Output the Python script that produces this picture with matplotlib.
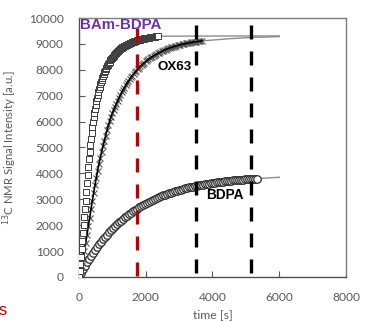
"""
13C NMR signal build-up for three polarizing agents (BAm-BDPA, OX63, BDPA).
"""

import numpy as np
import matplotlib
matplotlib.use("Agg")
import matplotlib.pyplot as plt

# build-up data (time step per series, signal in a.u.)
bam_step = 20
bam_signal = [
    0, 230, 490, 780, 1080, 1380, 1690, 2000, 2310, 2620,
    2950, 3280, 3620, 3940, 4250, 4540, 4820, 5080, 5330, 5560,
    5780, 5980, 6170, 6340, 6500, 6650, 6790, 6920, 7040, 7150,
    7250, 7350, 7440, 7530, 7610, 7690, 7760, 7830, 7900, 7960,
    8020, 8075, 8130, 8180, 8230, 8275, 8320, 8360, 8400, 8440,
    8475, 8510, 8545, 8575, 8605, 8635, 8660, 8690, 8715, 8740,
    8760, 8785, 8805, 8825, 8845, 8865, 8880, 8900, 8915, 8930,
    8945, 8960, 8975, 8990, 9000, 9015, 9025, 9040, 9050, 9060,
    9070, 9080, 9090, 9100, 9110, 9118, 9126, 9134, 9142, 9150,
    9157, 9164, 9171, 9178, 9185, 9191, 9197, 9203, 9209, 9215,
    9220, 9225, 9230, 9235, 9240, 9245, 9250, 9254, 9258, 9262,
    9266, 9270, 9274, 9278, 9282, 9286, 9290, 9294, 9298,
]

ox_step = 40
ox_signal = [
    0, 200, 440, 710, 1000, 1310, 1630, 1960, 2290, 2620,
    2940, 3250, 3550, 3840, 4110, 4370, 4610, 4840, 5050, 5260,
    5460, 5660, 5850, 6030, 6182, 6320, 6451, 6577, 6697, 6812,
    6921, 7026, 7126, 7221, 7312, 7399, 7482, 7562, 7638, 7710,
    7779, 7846, 7909, 7969, 8026, 8082, 8134, 8184, 8232, 8278,
    8321, 8363, 8403, 8441, 8478, 8512, 8545, 8577, 8607, 8636,
    8664, 8690, 8715, 8739, 8762, 8784, 8805, 8825, 8844, 8862,
    8880, 8897, 8912, 8927, 8942, 8956, 8969, 8982, 8994, 9005,
    9016, 9027, 9037, 9047, 9056, 9064, 9072, 9080, 9088, 9095,
    9102, 9109, 9115,
]

bdpa_step = 60
bdpa_signal = [
    0, 148, 291, 428, 560, 688, 810, 928, 1041, 1150,
    1255, 1356, 1453, 1546, 1636, 1723, 1806, 1886, 1963, 2038,
    2109, 2178, 2244, 2307, 2369, 2428, 2484, 2539, 2591, 2642,
    2690, 2737, 2782, 2825, 2867, 2907, 2946, 2983, 3019, 3053,
    3086, 3118, 3149, 3178, 3207, 3234, 3260, 3285, 3310, 3333,
    3356, 3377, 3398, 3418, 3438, 3456, 3474, 3491, 3508, 3524,
    3539, 3554, 3568, 3582, 3595, 3607, 3620, 3631, 3643, 3653,
    3664, 3674, 3684, 3693, 3702, 3710, 3719, 3727, 3734, 3742,
    3749, 3756, 3762, 3769, 3775, 3781, 3786, 3792, 3797, 3802,
]

# fitted curves beyond the last data point
bam_fit_t = [2360, 6000]
bam_fit_y = [9298, 9310]
ox_fit_t = [3680, 4500, 5200, 6000]
ox_fit_y = [9115, 9200, 9250, 9280]
bdpa_fit_t = [5340, 6000]
bdpa_fit_y = [3802, 3850]

# time markers
red_mark = 1740
black_marks = [3505, 5150]

x_ticks = [0, 2000, 4000, 6000, 8000]
y_ticks = list(range(0, 10001, 1000))

bam_t = np.arange(len(bam_signal)) * bam_step
ox_t = np.arange(len(ox_signal)) * ox_step
bdpa_t = np.arange(len(bdpa_signal)) * bdpa_step

fig = plt.figure(figsize=(3.66, 3.21), dpi=100)
ax = fig.add_axes([0.2158, 0.1371, 0.7296, 0.8068])

# fit continuation lines
ax.plot(bam_fit_t, bam_fit_y, color="#8c8c8c", lw=1.0, zorder=2)
ax.plot(ox_fit_t, ox_fit_y, color="#8c8c8c", lw=1.0, zorder=2)
ax.plot(bdpa_fit_t, bdpa_fit_y, color="#8c8c8c", lw=1.0, zorder=2)

# data
ax.plot(bdpa_t, bdpa_signal, linestyle="none", marker="o", ms=5.4,
        mfc="white", mec="#2e2e2e", mew=0.9, zorder=3)
ax.plot(ox_t, ox_signal, linestyle="none", marker="x", ms=5.0,
        mec="#555555", mew=0.8, zorder=3)
ax.plot(ox_t, ox_signal, color="black", lw=1.2, zorder=3)
ax.plot(bam_t, bam_signal, linestyle="none", marker="s", ms=4.2,
        mfc="white", mec="#3c3c3c", mew=0.7, zorder=4)

# dashed time markers
ax.plot([red_mark, red_mark], [9620, 0], color="#c00000", lw=2.4,
        dashes=(4.2, 3.6), zorder=5)
for xm in black_marks:
    ax.plot([xm, xm], [9730, 0], color="black", lw=2.4,
            dashes=(4.2, 3.6), zorder=5)

# series labels
ax.text(1250, 9730, "BAm-BDPA", color="#7030a0", fontsize=10.8,
        fontweight="bold", family="Liberation Sans", ha="center",
        va="center", zorder=6, clip_on=False)
ax.text(2870, 8120, "OX63", color="black", fontsize=9.6,
        fontweight="bold", family="Liberation Sans", ha="center",
        va="center", zorder=6)
ax.text(4380, 3160, "BDPA", color="black", fontsize=9.8,
        fontweight="bold", family="Liberation Sans", ha="center",
        va="center", zorder=6)

ax.set_xlim(0, 8000)
ax.set_ylim(0, 10000)
ax.set_xticks(x_ticks)
ax.set_xticklabels([str(v) for v in x_ticks])
ax.set_yticks(y_ticks)
ax.set_yticklabels([str(v) for v in y_ticks])
ax.tick_params(direction="in", length=4, width=0.8, color="#595959",
               labelsize=8.6, labelcolor="#595959", pad=11)
for lab in ax.get_xticklabels() + ax.get_yticklabels():
    lab.set_family("Lato")

for side in ["left", "bottom"]:
    ax.spines[side].set_color("#505050")
    ax.spines[side].set_linewidth(1.0)
for side in ["top", "right"]:
    ax.spines[side].set_color("#7f7f7f")
    ax.spines[side].set_linewidth(1.0)

ax.set_xlabel("time [s]", fontsize=8.8, color="#595959", family="Lato",
              labelpad=4)
ax.set_ylabel("$^{13}$C NMR Signal Intensity [a.u.]", fontsize=8.2,
              color="#595959", family="Lato", labelpad=7)

# clipped red text at the lower left edge
fig.text(-0.004, 0.034, "s", color="#c00000", fontsize=12,
         family="Liberation Sans", ha="left", va="center")

fig.savefig("out.png", dpi=100)
